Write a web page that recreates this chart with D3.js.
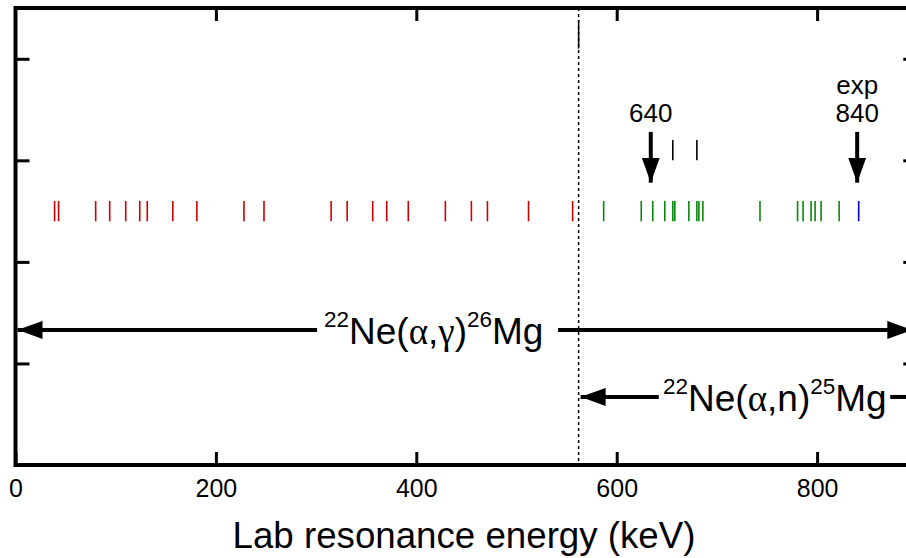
<!DOCTYPE html>
<html>
<head>
<meta charset="utf-8">
<script src="https://cdn.jsdelivr.net/npm/d3@7"></script>
<style>
  body { margin: 0; background: #fff; }
  svg { display: block; }
  text { font-family: "Liberation Sans", Arial, Helvetica, sans-serif; fill: #000; }
  .greek { font-family: "Liberation Serif", "Times New Roman", serif; }
</style>
</head>
<body>
<div id="SVGContainer"></div>
<script>
// resonance energies (keV, lab)
const gammaRes = [39, 43, 80, 94, 110, 124, 131.5, 157, 181, 228, 248,
  315, 331, 356.5, 370.5, 392, 429, 455, 471, 512, 556];
const neutronRes = [587, 624.5, 636, 648, 656, 658, 672, 680, 682, 686,
  743, 780.5, 786, 794, 798, 804, 822];
const expRes = [841.5];
const upperRes = [656, 680];

const xTicks = [0, 200, 400, 600, 800];
const yTicks = [1, 2, 3, 4];

// arrows pointing at resonances
const markers = [
  { e: 634, label: ['640'] },
  { e: 840, label: ['exp', '840'] }
];

const threshold = 562;

const width = 906, height = 558;

const svg = d3.select('#SVGContainer')
  .append('svg')
  .attr('width', width)
  .attr('height', height);

const x = d3.scaleLinear().domain([0, 900]).range([15.5, 917.3]);
const y = d3.scaleLinear().domain([0, 4.5]).range([465, 8]);

svg.append('defs').append('marker')
  .attr('id', 'head')
  .attr('viewBox', '0 0 25 18')
  .attr('refX', 25).attr('refY', 9)
  .attr('markerUnits', 'userSpaceOnUse')
  .attr('markerWidth', 25).attr('markerHeight', 18)
  .attr('orient', 'auto')
  .append('path')
    .attr('d', 'M0,0 L25,9 L0,18 Z')
    .attr('fill', '#000');

//axes, ticks pointing inward
svg.append('g')
  .attr('transform', `translate(0,${y(0)})`)
  .call(d3.axisBottom(x).tickValues(xTicks).tickSizeInner(-13).tickSizeOuter(0).tickPadding(14))
  .call(g => g.selectAll('text').attr('font-size', 25).attr('font-family', '"Liberation Sans", Arial, sans-serif'));

svg.append('g')
  .attr('transform', `translate(0,${y(4.5)})`)
  .call(d3.axisTop(x).tickValues(xTicks.slice(1)).tickSizeInner(-13).tickSizeOuter(0).tickFormat(''));

svg.append('g')
  .attr('transform', `translate(${x(0)},0)`)
  .call(d3.axisLeft(y).tickValues(yTicks).tickSizeInner(-14).tickSizeOuter(0).tickFormat(''));

svg.append('g')
  .attr('transform', `translate(${x(900)},0)`)
  .call(d3.axisRight(y).tickValues(yTicks).tickSizeInner(-14).tickSizeOuter(0).tickFormat(''));

svg.selectAll('.tick line').attr('stroke', '#000').attr('stroke-width', 3);
svg.selectAll('.domain').remove();

svg.append('rect')
  .attr('x', x(0)).attr('y', y(4.5))
  .attr('width', x(900) - x(0)).attr('height', y(0) - y(4.5))
  .attr('fill', 'none')
  .attr('stroke', '#000')
  .attr('stroke-width', 4);

svg.append('text')
  .attr('x', (232 + 696) / 2).attr('y', 548)
  .attr('text-anchor', 'middle')
  .attr('font-size', 36.7)
  .text('Lab resonance energy (keV)');

//threshold line
svg.append('line')
  .attr('x1', x(threshold)).attr('x2', x(threshold))
  .attr('y1', y(4.5)).attr('y2', y(0))
  .attr('stroke', '#000').attr('stroke-width', 1.5)
  .attr('stroke-dasharray', '3,3');
svg.append('line')
  .attr('x1', x(threshold)).attr('x2', x(threshold))
  .attr('y1', y(4.38)).attr('y2', y(4.1))
  .attr('stroke', '#000').attr('stroke-width', 1.5);

//resonance sticks
function sticks(data, color, lo, hi) {
  svg.append('g').selectAll('line').data(data)
    .enter()
    .append('line')
      .attr('x1', d => x(d)).attr('x2', d => x(d))
      .attr('y1', y(lo)).attr('y2', y(hi))
      .attr('stroke', color)
      .attr('stroke-width', 1.6);
}
sticks(gammaRes, '#cc0000', 2.4, 2.6);
sticks(neutronRes, '#0a880a', 2.4, 2.6);
sticks(expRes, '#0000dd', 2.4, 2.6);
sticks(upperRes, '#000', 3.0, 3.2);

//down arrows
markers.forEach(m => {
  svg.append('line')
    .attr('x1', x(m.e)).attr('x2', x(m.e))
    .attr('y1', y(3.28)).attr('y2', y(2.78))
    .attr('stroke', '#000').attr('stroke-width', 4)
    .attr('marker-end', 'url(#head)');
  m.label.forEach((t, i) => {
    svg.append('text')
      .attr('x', x(m.e)).attr('y', y(3.38) - (m.label.length - 1 - i) * 28)
      .attr('text-anchor', 'middle')
      .attr('font-size', 26)
      .text(t);
  });
});

//reaction arrows
function reaction(yv, segs, tx, pre, proj, post, prod) {
  segs.forEach(s => {
    const l = svg.append('line')
      .attr('x1', x(s[0])).attr('x2', x(s[1]))
      .attr('y1', y(yv)).attr('y2', y(yv))
      .attr('stroke', '#000').attr('stroke-width', 4);
    if (s[2]) l.attr('marker-end', 'url(#head)');
  });
  const t = svg.append('text')
    .attr('x', tx).attr('y', y(yv) + 14)
    .attr('font-size', 37);
  t.append('tspan').attr('font-size', 22.5).attr('dy', -17).text(pre);
  t.append('tspan').attr('dy', 17).text('Ne(');
  t.append('tspan').attr('class', 'greek').text('α');
  t.append('tspan').text(',');
  t.append('tspan').attr('class', proj === 'γ' ? 'greek' : null).text(proj);
  t.append('tspan').text(')');
  t.append('tspan').attr('font-size', 22.5).attr('dy', -17).text(post);
  t.append('tspan').attr('dy', 17).text(prod);
}

reaction(1.33, [[301, 2, true], [541.5, 895, true]], 324, '22', 'γ', '26', 'Mg');
reaction(0.67, [[642, 564, true], [873, 900, false]], 663, '22', 'n', '25', 'Mg');
</script>
</body>
</html>
